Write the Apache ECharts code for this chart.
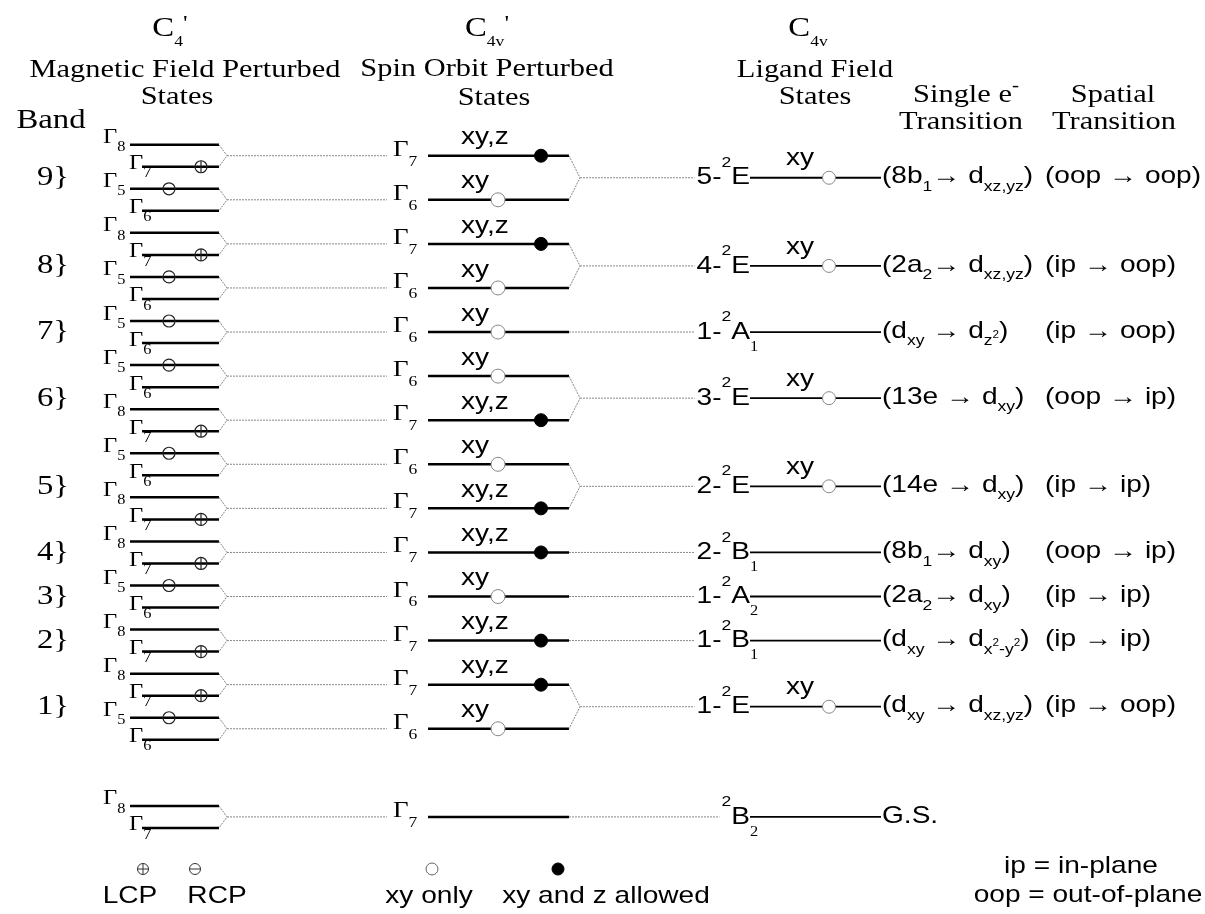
<!DOCTYPE html>
<html>
<head>
<meta charset="utf-8">
<script src="https://cdn.jsdelivr.net/npm/echarts@6/dist/echarts.min.js"></script>
<style>
  html, body { margin: 0; padding: 0; background: #fff; }
  #chart { width: 1205px; height: 914px; }
</style>
</head>
<body>
<div id="chart"></div>
<script>
// ---------------- data ----------------
// Markup: _{..} subscript, ^{..} superscript, `{..} small superscript on a subscript
const bandLabels = ['9}', '8}', '7}', '6}', '5}', '4}', '3}', '2}', '1}'];

// C4' magnetic-field sublevel pairs, top to bottom
const mfUpper = ['Γ_{8}','Γ_{5}','Γ_{8}','Γ_{5}','Γ_{5}','Γ_{5}','Γ_{8}','Γ_{5}','Γ_{8}','Γ_{8}','Γ_{5}','Γ_{8}','Γ_{8}','Γ_{5}','Γ_{8}'];
const mfLower = ['Γ_{7}','Γ_{6}','Γ_{7}','Γ_{6}','Γ_{6}','Γ_{6}','Γ_{7}','Γ_{6}','Γ_{7}','Γ_{7}','Γ_{6}','Γ_{7}','Γ_{7}','Γ_{6}','Γ_{7}'];
const mfPolar = ['LCP','RCP','LCP','RCP','RCP','RCP','LCP','RCP','LCP','LCP','RCP','LCP','LCP','RCP',''];
// schematic level index of the upper sublevel of each pair (lower one sits at +1)
const mfLevel = [0, 2, 4, 6, 8, 10, 12, 14, 16, 18, 20, 22, 24, 26, 30];

// C4v' spin-orbit states, one for each pair above
const soLabel = ['Γ_{7}','Γ_{6}','Γ_{7}','Γ_{6}','Γ_{6}','Γ_{6}','Γ_{7}','Γ_{6}','Γ_{7}','Γ_{7}','Γ_{6}','Γ_{7}','Γ_{7}','Γ_{6}','Γ_{7}'];
const soAllowed = ['xy,z','xy','xy,z','xy','xy','xy','xy,z','xy','xy,z','xy,z','xy','xy,z','xy,z','xy',''];

// C4v ligand-field states and the spin-orbit states each one gives
const lfLabel = ['5-^{2}E','4-^{2}E','1-^{2}A_{1}','3-^{2}E','2-^{2}E','2-^{2}B_{1}','1-^{2}A_{2}','1-^{2}B_{1}','1-^{2}E','^{2}B_{2}'];
const lfSplit = [[0, 1], [2, 3], [4], [5, 6], [7, 8], [9], [10], [11], [12, 13], [14]];
const lfAllowed = ['xy','xy','','xy','xy','','','','xy',''];
const singleE = ['(8b_{1}→ d_{xz,yz})','(2a_{2}→ d_{xz,yz})','(d_{xy} → d_{z}`{2})','(13e → d_{xy})','(14e → d_{xy})',
                 '(8b_{1}→ d_{xy})','(2a_{2}→ d_{xy})','(d_{xy} → d_{x}`{2}_{-y}`{2})','(d_{xy} → d_{xz,yz})','G.S.'];
const spatial = ['(oop → oop)','(ip → oop)','(ip → oop)','(oop → ip)','(ip → ip)','(oop → ip)','(ip → ip)','(ip → ip)','(ip → oop)',''];

// column titles and key
const titles = {
  mfSym: "C_{4}^{'}", mf1: 'Magnetic Field Perturbed', mf2: 'States',
  soSym: "C_{4v}^{'}", so1: 'Spin Orbit Perturbed', so2: 'States',
  lfSym: 'C_{4v}', lf1: 'Ligand Field', lf2: 'States',
  se1: 'Single e^{-}', se2: 'Transition', sp1: 'Spatial', sp2: 'Transition', band: 'Band'
};
const keyText = { lcp: 'LCP', rcp: 'RCP', xyOnly: 'xy only', xyz: 'xy and z allowed', ip: 'ip = in-plane', oop: 'oop = out-of-plane' };

// ---------------- layout ----------------
const W = 1205, H = 914;
const ROW = 22.04, TOP = 144.7;        // pixel pitch of one level index, pixel of index 0
const SX = 1.17;                        // horizontal stretch of the lettering
const X = {
  band: 53,
  mfGammaU: 103, mfGammaL: 129, mfLineU: 130, mfLineL: 142, mfLineEnd: 219, mfApex: 227,
  mfLCP: 201, mfRCP: 169,
  soGamma: 393, soLine: 428, soLineEnd: 569, soApex: 580, soText: 461, soOpen: 498, soFilled: 541,
  lfLine: 750, lfLineEnd: 881, lfText: 786, lfOpen: 829,
  trans: 882, spatial: 1045
};
const SERIF = '"Liberation Serif","Times New Roman",serif';
const SANS = '"Liberation Sans",Arial,sans-serif';
const F = (px, fam) => px + 'px ' + fam;
const STY = {
  head:  { main: { f: F(26, SERIF), dy: 0 }, sup: { f: F(18, SERIF), dy: -9 } },
  cee:   { main: { f: F(28, SERIF), dy: 0 }, sub: { f: F(15, SERIF), dy: 13 }, sup: { f: F(22, SERIF), dy: -5 } },
  band:  { main: { f: F(28, SERIF), dy: 0 } },
  mfG:   { main: { f: F(21, SERIF), dy: 0 }, sub: { f: F(14, SERIF), dy: 10 } },
  soG:   { main: { f: F(23, SERIF), dy: 0 }, sub: { f: F(15, SERIF), dy: 12 } },
  sans:  { main: { f: F(24, SANS), dy: 0 } },
  lf:    { main: { f: F(24, SANS), dy: 0 }, sup: { f: F(15, SANS), dy: -15 }, sub: { f: F(14, SERIF), dy: 15 } },
  trans: { main: { f: F(24, SANS), dy: 0 }, sub: { f: F(15, SANS), dy: 10 }, ssup: { f: F(10, SANS), dy: 4 } }
};
const LEVEL = { stroke: '#000', lineWidth: 2.5 };
const LF_LEVEL = { stroke: '#000', lineWidth: 1.8 };
const DOT = { stroke: '#888', lineWidth: 1, lineDash: [2, 1], fill: 'none' };

// ---------------- text runs with sub/superscripts ----------------
const mctx = document.createElement('canvas').getContext('2d');
function tw(font, s) { mctx.font = font; return mctx.measureText(s).width; }
function parse(m) {
  const out = [], re = /([_^`])\{([^}]*)\}|([^_^`]+)/g;
  let r;
  while ((r = re.exec(m))) {
    if (r[3] !== undefined) out.push({ k: 'main', t: r[3] });
    else out.push({ k: { '_': 'sub', '^': 'sup', '`': 'ssup' }[r[1]], t: r[2] });
  }
  return out;
}
function runWidth(m, sty) { return parse(m).reduce((a, s) => a + tw(sty[s.k].f, s.t), 0) * SX; }
function run(m, sty, x, y, align, skipTrailingSub) {
  const segs = parse(m);
  let cx = 0;
  const kids = [];
  segs.forEach(s => {
    const st = sty[s.k];
    kids.push({ type: 'text', x: cx, y: st.dy, silent: true,
      style: { text: s.t, font: st.f, fill: '#000', align: 'left', verticalAlign: 'middle',
               textAlign: 'left', textVerticalAlign: 'middle' } });
    cx += tw(st.f, s.t);
  });
  let ref = cx;
  const last = segs[segs.length - 1];
  if (skipTrailingSub && last && last.k === 'sub') ref -= tw(sty.sub.f, last.t);
  const off = align === 'center' ? -ref / 2 : align === 'right' ? -ref : 0;
  kids.forEach(k => { k.x += off; });
  return { type: 'group', x: x, y: y, scaleX: SX, children: kids, silent: true };
}
function seg(x1, y1, x2, y2, style) {
  return { type: 'line', shape: { x1, y1, x2, y2 }, style: Object.assign({}, style), silent: true };
}
function bracket(xEnd, xApex, yA, yM, yB) {
  return { type: 'polyline', shape: { points: [[xEnd, yA], [xApex, yM], [xEnd, yB]] },
           style: Object.assign({}, DOT), silent: true };
}
function ring(cx, cy, r, stroke, fill, lw) {
  return { type: 'circle', shape: { cx, cy, r }, style: { stroke, fill, lineWidth: lw }, silent: true };
}

// ---------------- series renderers ----------------
function renderMF(params, api) {
  const i = params.dataIndex, lv = api.value(0);
  const px = v => api.coord([v, lv])[0];
  const yU = api.coord([0, lv])[1], yL = api.coord([0, lv + 1])[1], yM = api.coord([0, lv + 0.5])[1];
  const els = [
    seg(px(X.mfLineU), yU, px(X.mfLineEnd), yU, LEVEL),
    seg(px(X.mfLineL), yL, px(X.mfLineEnd), yL, LEVEL),
    bracket(px(X.mfLineEnd), px(X.mfApex), yU, yM, yL),
    seg(px(X.mfApex), yM, px(X.soGamma) - 6, yM, DOT),
    run(mfUpper[i], STY.mfG, px(X.mfGammaU), yU - 7, 'left'),
    run(mfLower[i], STY.mfG, px(X.mfGammaL), yL - 3, 'left')
  ];
  if (mfPolar[i] === 'LCP') {
    const cx = px(X.mfLCP);
    els.push(ring(cx, yL, 6, '#222', 'none', 1.2), seg(cx, yL - 6, cx, yL + 6, { stroke: '#222', lineWidth: 1.2 }));
  } else if (mfPolar[i] === 'RCP') {
    els.push(ring(px(X.mfRCP), yU, 6, '#222', 'none', 1.2));
  }
  return { type: 'group', children: els };
}

function renderSO(params, api) {
  const j = params.dataIndex, lv = api.value(0);
  const px = v => api.coord([v, lv])[0];
  const y = api.coord([0, lv])[1];
  const els = [
    run(soLabel[j], STY.soG, px(X.soGamma), y - 6, 'left'),
    seg(px(X.soLine), y, px(X.soLineEnd), y, LEVEL)
  ];
  if (soAllowed[j]) {
    els.push(run(soAllowed[j], STY.sans, px(X.soText), y - 18, 'left'));
    if (soAllowed[j] === 'xy') els.push(ring(px(X.soOpen), y, 7, '#888', '#fff', 1));
    else els.push(ring(px(X.soFilled), y, 6.5, '#000', '#000', 1));
  }
  return { type: 'group', children: els };
}

function renderLF(params, api) {
  const k = params.dataIndex, lv = api.value(0);
  const px = v => api.coord([v, lv])[0];
  const y = api.coord([0, lv])[1];
  const soY = lfSplit[k].map(j => api.coord([0, mfLevel[j] + 0.5])[1]);
  const trail = lfLabel[k].match(/_\{([^}]*)\}$/);
  const labelLeft = px(X.lfLine) - (runWidth(lfLabel[k], STY.lf) - (trail ? tw(STY.lf.sub.f, trail[1]) * SX : 0));
  const els = [];
  if (soY.length === 2) {
    els.push(bracket(px(X.soLineEnd), px(X.soApex), soY[0], y, soY[1]));
    els.push(seg(px(X.soApex), y, labelLeft - 2, y, DOT));
  } else {
    els.push(seg(px(X.soLineEnd), y, labelLeft - 2, y, DOT));
  }
  els.push(run(lfLabel[k], STY.lf, px(X.lfLine), y, 'right', true));
  els.push(seg(px(X.lfLine), y, px(X.lfLineEnd), y, LF_LEVEL));
  if (lfAllowed[k]) {
    els.push(run(lfAllowed[k], STY.sans, px(X.lfText), y - 19, 'left'));
    els.push(ring(px(X.lfOpen), y, 6.5, '#888', '#fff', 1));
  }
  els.push(run(singleE[k], STY.trans, px(X.trans), y - 1, 'left'));
  if (spatial[k]) {
    const xs = Math.max(px(X.spatial), px(X.trans) + runWidth(singleE[k], STY.trans) + 5);
    els.push(run(spatial[k], STY.trans, xs, y - 1, 'left'));
  }
  if (k < bandLabels.length) els.push(run(bandLabels[k], STY.band, px(X.band), y, 'center'));
  return { type: 'group', children: els };
}

// ---------------- static titles and key ----------------
function keyMarks() {
  const g = [];
  const put = (m, sty, x, y, al) => g.push(run(m, sty, x, y, al));
  put(titles.mfSym, STY.cee, 170, 29, 'center');
  put(titles.mf1, STY.head, 185, 70, 'center');
  put(titles.mf2, STY.head, 177, 97, 'center');
  put(titles.soSym, STY.cee, 487, 29, 'center');
  put(titles.so1, STY.head, 487, 69, 'center');
  put(titles.so2, STY.head, 494, 98, 'center');
  put(titles.lfSym, STY.cee, 808, 29, 'center');
  put(titles.lf1, STY.head, 815, 70, 'center');
  put(titles.lf2, STY.head, 815, 97, 'center');
  put(titles.se1, STY.head, 966, 95, 'center');
  put(titles.se2, STY.head, 961, 122, 'center');
  put(titles.sp1, STY.head, 1113, 95, 'center');
  put(titles.sp2, STY.head, 1114, 122, 'center');
  put(titles.band, STY.band, 51, 121, 'center');
  // polarisation / selection-rule key
  g.push(ring(143, 869, 5.5, '#333', 'none', 1), seg(137.5, 869, 148.5, 869, { stroke: '#333', lineWidth: 1 }),
         seg(143, 863.5, 143, 874.5, { stroke: '#333', lineWidth: 1 }));
  g.push(ring(195, 869, 5.5, '#333', 'none', 1), seg(189.5, 869, 200.5, 869, { stroke: '#333', lineWidth: 1 }));
  g.push(ring(432, 869, 6, '#666', '#fff', 1), ring(558, 869, 6, '#000', '#000', 1));
  put(keyText.lcp, STY.sans, 130, 896, 'center');
  put(keyText.rcp, STY.sans, 217, 896, 'center');
  put(keyText.xyOnly, STY.sans, 429, 896, 'center');
  put(keyText.xyz, STY.sans, 606, 896, 'center');
  put(keyText.ip, STY.sans, 1081, 866, 'center');
  put(keyText.oop, STY.sans, 1088, 895, 'center');
  return g;
}

// ---------------- chart ----------------
const chart = echarts.init(document.getElementById('chart'), null, { renderer: 'canvas', width: W, height: H });
const mean = a => a.reduce((s, v) => s + v, 0) / a.length;
chart.setOption({
  animation: false,
  backgroundColor: '#fff',
  grid: { left: 0, right: 0, top: 0, bottom: 0 },
  xAxis: { type: 'value', min: 0, max: W, show: false },
  yAxis: { type: 'value', inverse: true, min: -TOP / ROW, max: (H - TOP) / ROW, show: false },
  graphic: { elements: keyMarks() },
  series: [
    { type: 'custom', name: 'C4\' states', silent: true, clip: false, encode: { x: 1, y: 0 },
      data: mfLevel.map((lv, i) => [lv, i]), renderItem: renderMF },
    { type: 'custom', name: 'C4v\' states', silent: true, clip: false, encode: { x: 1, y: 0 },
      data: mfLevel.map((lv, j) => [lv + 0.5, j]), renderItem: renderSO },
    { type: 'custom', name: 'C4v states', silent: true, clip: false, encode: { x: 1, y: 0 },
      data: lfSplit.map((s, k) => [mean(s.map(j => mfLevel[j] + 0.5)), k]), renderItem: renderLF }
  ]
});
</script>
</body>
</html>
